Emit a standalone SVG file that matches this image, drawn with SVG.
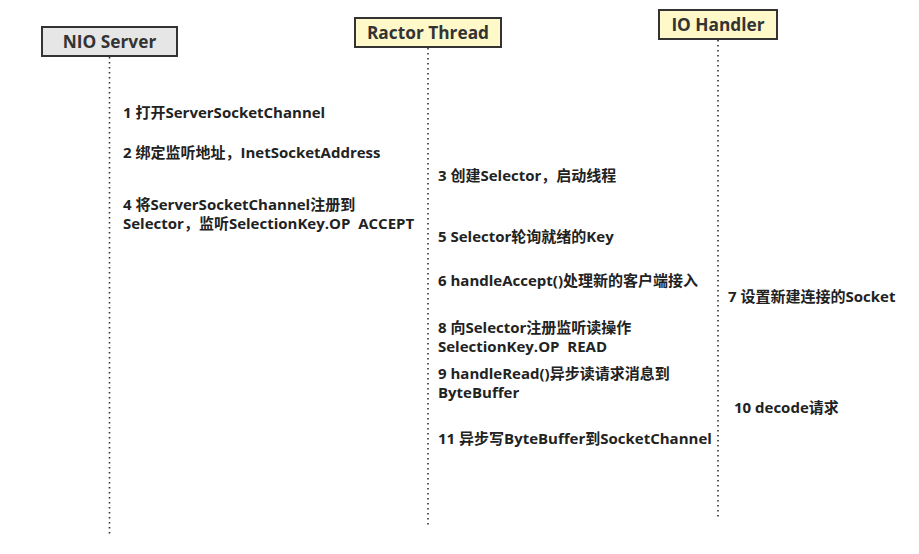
<svg xmlns="http://www.w3.org/2000/svg" width="919" height="554" viewBox="0 0 919 554">
<style>
.box{stroke:#333;stroke-width:2}
.lbl{font-family:"Open Sans","Noto Sans CJK SC",sans-serif;font-weight:bold;font-size:17.3px;fill:#333;text-anchor:middle}
.t{font-family:"Open Sans","Noto Sans CJK SC",sans-serif;font-weight:bold;font-size:15px;fill:#222}
.life{stroke:#333;stroke-width:1.6;stroke-dasharray:1.6 3.4;fill:none}
</style>
<rect width="919" height="554" fill="#fff"/>
<g id="connectors">
<line class="life" x1="109.5" y1="57" x2="109.5" y2="534"/>
<line class="life" x1="428" y1="48" x2="428" y2="525"/>
<line class="life" x1="718" y1="40" x2="718" y2="517"/>
</g>
<g id="nio-server">
<rect class="box" x="42" y="27" width="135" height="29" fill="#e6e6e6"/>
<text class="lbl" x="109.5" y="47.5">NIO Server</text>
</g>
<g id="ractor-thread">
<rect class="box" x="355" y="18" width="146" height="29" fill="#fff8c8"/>
<text class="lbl" x="428" y="38.5">Ractor Thread</text>
</g>
<g id="io-handler">
<rect class="box" x="659" y="10" width="118" height="29" fill="#fff8c8"/>
<text class="lbl" x="718" y="30.5">IO Handler</text>
</g>
<g id="steps">
<text class="t" x="123" y="118">1 打开ServerSocketChannel</text>
<text class="t" x="123" y="158">2 绑定监听地址，InetSocketAddress</text>
<text class="t" x="123" y="210">4 将ServerSocketChannel注册到</text>
<text class="t" x="123" y="229" xml:space="preserve">Selector，监听SelectionKey.OP  ACCEPT</text>
<text class="t" x="438" y="181">3 创建Selector，启动线程</text>
<text class="t" x="438" y="242">5 Selector轮询就绪的Key</text>
<text class="t" x="438" y="286">6 handleAccept()处理新的客户端接入</text>
<text class="t" x="438" y="333">8 向Selector注册监听读操作</text>
<text class="t" x="438" y="352" xml:space="preserve">SelectionKey.OP  READ</text>
<text class="t" x="438" y="379">9 handleRead()异步读请求消息到</text>
<text class="t" x="438" y="398">ByteBuffer</text>
<text class="t" x="438" y="444">11 异步写ByteBuffer到SocketChannel</text>
<text class="t" x="728" y="302">7 设置新建连接的Socket</text>
<text class="t" x="734" y="413">10 decode请求</text>
</g>
</svg>
